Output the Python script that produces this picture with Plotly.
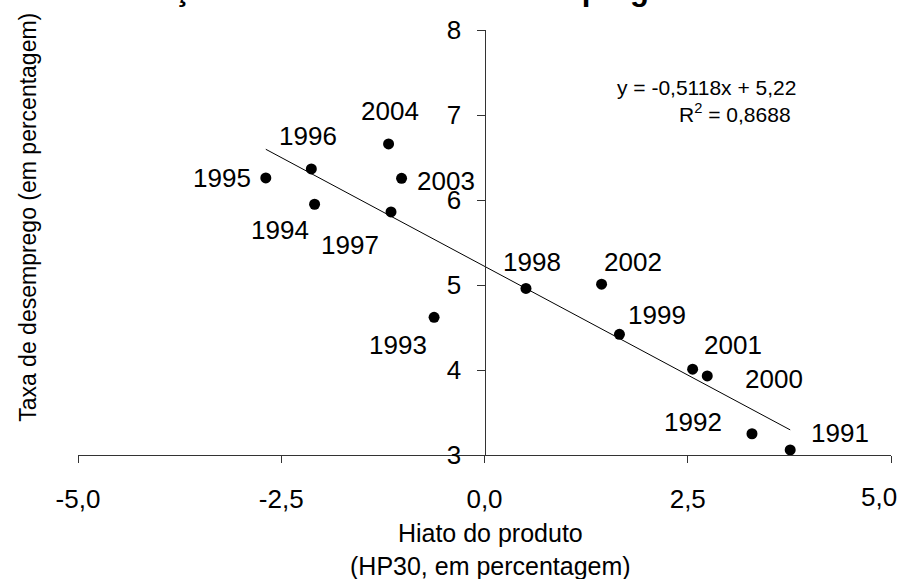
import plotly.graph_objects as go

# Okun-type scatter: output gap vs unemployment rate, Portugal 1991-2004
years = ["1991", "1992", "1993", "1994", "1995", "1996", "1997",
         "1998", "1999", "2000", "2001", "2002", "2003", "2004"]
hiato = [3.76, 3.29, -0.62, -2.09, -2.69, -2.13, -1.15,
         0.51, 1.66, 2.74, 2.56, 1.44, -1.02, -1.18]
desemprego = [3.06, 3.25, 4.62, 5.95, 6.26, 6.365, 5.86,
              4.96, 4.42, 3.93, 4.01, 5.01, 6.255, 6.66]

# label offsets (px, right / down) for each year tag
label_dx = [50, -59, -36, -35, -44, -3, -41, 6, 38, 67, 40, 31, 44, 1]
label_dy = [-17, -12, 28, 26, 0, -33, 33, -26, -19, 3, -24, -22, 3, -33]

# linear trend reported on the chart
slope = -0.5118
intercept = 5.22
r2 = 0.8688

x_ticks = [-5, -2.5, 0, 2.5, 5]
x_ticktext = ["-5,0", "-2,5", "0,0", "2,5", "5,0"]
y_ticks = [3, 4, 5, 6, 7, 8]

FONT = "Liberation Sans, Arial, sans-serif"
AXIS = "#333333"

x_lo, x_hi = min(hiato), max(hiato)
trend_x = [x_lo, x_hi]
trend_y = [slope * v + intercept for v in trend_x]

fig = go.Figure()
fig.add_trace(go.Scatter(x=trend_x, y=trend_y, mode="lines",
                         line=dict(color="black", width=1),
                         hoverinfo="skip", showlegend=False))
fig.add_trace(go.Scatter(x=hiato, y=desemprego, mode="markers",
                         marker=dict(color="black", size=11),
                         text=years, showlegend=False))

annotations = []
for yr, xv, yv, dx, dy in zip(years, hiato, desemprego, label_dx, label_dy):
    annotations.append(dict(x=xv, y=yv, xref="x", yref="y", text=yr,
                            showarrow=False, xshift=dx, yshift=-dy,
                            xanchor="center", yanchor="middle",
                            font=dict(family=FONT, size=26, color="black")))

def fmt(v, nd):
    return f"{v:.{nd}f}".replace(".", ",")

eq_text = (f"y = {fmt(slope, 4)}x + {fmt(intercept, 2)}<br>"
           f"R<sup>2</sup> = {fmt(r2, 4)}\u00a0")
annotations.append(dict(x=3.85, y=7.17, xref="x", yref="y", text=eq_text,
                        showarrow=False, align="right",
                        xanchor="right", yanchor="middle",
                        font=dict(family=FONT, size=21, color="black")))

# the last x tick label is pulled left so it stays inside the page
annotations.append(dict(x=x_ticks[-1], y=3, xref="x", yref="y",
                        text=x_ticktext[-1], showarrow=False,
                        xshift=-12, yshift=-42,
                        xanchor="center", yanchor="middle",
                        font=dict(family=FONT, size=26, color="black")))

# axis titles
annotations.append(dict(x=0, y=0.558, xref="paper", yref="paper",
                        text="Taxa de desemprego (em percentagem)",
                        textangle=-90, showarrow=False, xshift=-50,
                        xanchor="center", yanchor="middle",
                        font=dict(family=FONT, size=23, color="black")))
annotations.append(dict(x=0.07, y=3, xref="x", yref="y",
                        text="Hiato do produto<br>(HP30, em percentagem)",
                        showarrow=False, yshift=-94, align="center",
                        xanchor="center", yanchor="middle",
                        font=dict(family=FONT, size=25, color="black")))

# chart title (sits above the top edge of the page)
annotations.append(dict(x=0.034, y=1.05, xref="paper", yref="paper",
                        text="<b>Relação entre o hiato e o desemprego</b>",
                        showarrow=False, xanchor="left", yanchor="bottom",
                        font=dict(family=FONT, size=31, color="black")))

fig.update_layout(
    width=911, height=579, autosize=False,
    margin=dict(l=78, r=20, t=30, b=124),
    paper_bgcolor="white", plot_bgcolor="white",
    annotations=annotations,
    showlegend=False,
    xaxis=dict(range=[-5, 5], tickvals=x_ticks,
               ticktext=x_ticktext[:-1] + [""],
               automargin=False,
               showgrid=False, zeroline=False, showline=True,
               linecolor=AXIS, linewidth=1, ticks="outside", ticklen=7,
               tickcolor=AXIS, ticklabelstandoff=14,
               tickfont=dict(family=FONT, size=26, color="black")),
    yaxis=dict(range=[3, 8], tickvals=y_ticks, anchor="free", position=0.5,
               automargin=False,
               showgrid=False, zeroline=False, showline=True,
               linecolor=AXIS, linewidth=1, ticks="outside", ticklen=8,
               tickcolor=AXIS, ticklabelstandoff=10,
               tickfont=dict(family=FONT, size=26, color="black")),
)

fig.write_html("out.html")
